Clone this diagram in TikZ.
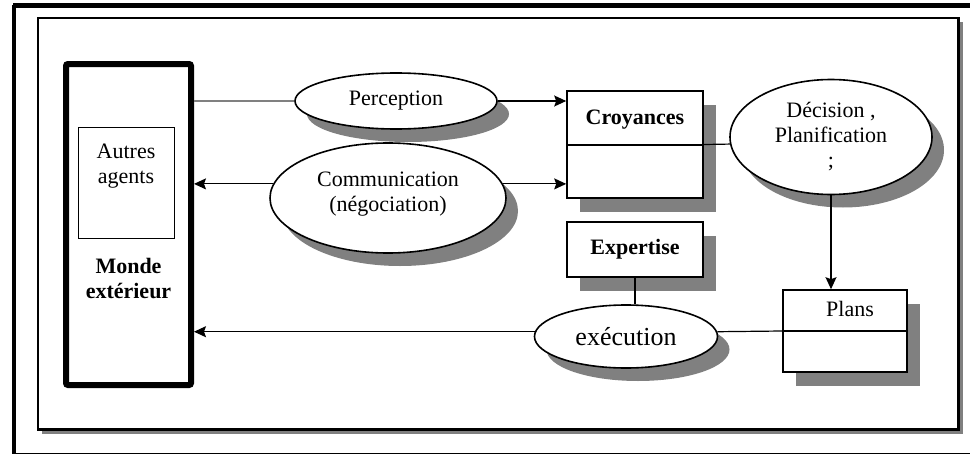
\documentclass[tikz,border=0pt]{standalone}
\usepackage{fontspec}
\setmainfont{Liberation Serif}
\usetikzlibrary{shapes.geometric,shadows,arrows.meta}

\begin{document}
\begin{tikzpicture}[x=0.5pt,y=-0.5pt,
    font=\fontsize{11}{12.5}\selectfont,
    boxshadow/.style={drop shadow={shadow xshift=6.5pt,shadow yshift=-7pt,fill=gray,opacity=1}},
    ellshadow/.style={drop shadow={shadow xshift=6pt,shadow yshift=-6.5pt,fill=gray,opacity=1}},
    bloc/.style={draw,thick,fill=white,rectangle,inner sep=0pt,boxshadow},
    action/.style={draw,thick,fill=white,ellipse,inner sep=0pt,align=center,ellshadow},
    lien/.style={semithick},
    >={Stealth[length=6pt,width=5.5pt,inset=1pt]},
]
    \useasboundingbox (0,0) rectangle (970,455);
    % cadres
    \draw[line width=2.4pt] (975,5.5) -- (13,5.5);
    \draw[line width=2pt] (13.5,4.5) -- (13.5,453.5);
    \draw[line width=0.8pt] (13,453.5) -- (975,453.5);
    \draw[line width=1.2pt,drop shadow={shadow xshift=2pt,shadow yshift=-2pt,fill=gray,opacity=1},fill=white] (38,18) rectangle (958.5,429.5);

    \node[draw,line width=3pt,rounded corners=1pt,minimum width=62.5pt,minimum height=160.5pt] (monde) at (128.5,224.5) {};
    \node[draw,minimum width=48pt,minimum height=55.5pt] (autres) at (126,182.5) {};
    \node[align=center] (autrestxt) at (126,166) {Autres\\agents};
    \node[align=center,font=\fontsize{11}{12.5}\selectfont\bfseries] (mondetxt) at (128.5,278) {Monde\\ext\'erieur};

    \node[bloc,minimum width=68pt,minimum height=53.5pt] (croy) at (635,144.5) {};
    \draw[line width=1pt] (croy.west) -- (croy.east);
    \node[font=\fontsize{11}{12.5}\selectfont\bfseries] (croytxt) at (635,120) {Croyances};

    \node[bloc,minimum width=68pt,minimum height=27.5pt,font=\fontsize{11}{12.5}\selectfont\bfseries] (expertise) at (635,249.5) {Expertise};

    \node[bloc,minimum width=62pt,minimum height=41pt] (plans) at (845,331) {};
    \draw[line width=1pt] (plans.west) -- (plans.east);
    \node (planstxt) at (850,309) {Plans};

    \node[action,minimum width=101pt,minimum height=28pt] (percep) at (396,101) {Perception};
    \node[action,minimum width=118pt,minimum height=55pt] (comm) at (388,198) {Communication\\(n\'egociation)\\[-6pt]};
    \node[action,minimum width=101pt,minimum height=57.5pt] (decision) at (831,137) {D\'ecision ,\\Planification\\;};
    \node[action,minimum width=91.5pt,minimum height=31.5pt,font=\fontsize{13}{15}\selectfont] (exec) at (626,336.5) {ex\'ecution};

    \draw[lien,gray] (monde.east |- percep.west) -- (percep.west);
    \draw[lien,->] (percep.east) -- (percep.east -| croy.west);
    \draw[lien,->] (comm.173) -- (comm.173 -| monde.east);
    \draw[lien,->] (comm.7) -- (comm.7 -| croy.west);
    \draw[lien] (croy.east) -- (decision.184);
    \draw[lien,->] (decision.south) -- (decision.south |- plans.north);
    \draw[lien] (expertise.south) -- (expertise.south |- exec.north);
    \draw[lien] (plans.west) -- (exec.3);
    \draw[lien,->] (exec.177) -- (exec.177 -| monde.east);
\end{tikzpicture}
\end{document}
